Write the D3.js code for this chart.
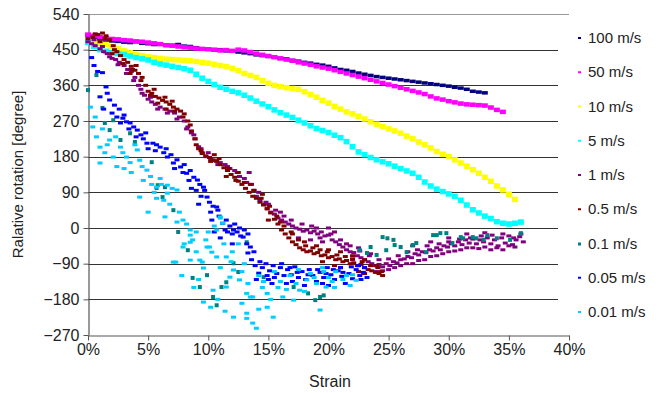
<!DOCTYPE html>
<html>
<head>
<meta charset="utf-8">
<script src="https://cdn.jsdelivr.net/npm/d3@7"></script>
<style>
  body { margin: 0; background: #fff; }
  svg { display: block; font-family: "Liberation Sans", Arial, sans-serif; }
</style>
</head>
<body>
<svg id="chart" width="660" height="393"></svg>
<script>
// Series labels and colours, legend order
const seriesNames = ["100 m/s", "50 m/s", "10 m/s", "5 m/s", "1 m/s", "0.5 m/s", "0.1 m/s", "0.05 m/s", "0.01 m/s"];
const seriesColors = ["#000080", "#ff00ff", "#ffff00", "#00ffff", "#800080", "#800000", "#008080", "#0000ff", "#00ccff"];

const xTicks = [0, 5, 10, 15, 20, 25, 30, 35, 40];
const yTicks = [-270, -180, -90, 0, 90, 180, 270, 360, 450, 540];

// strain grid (%) for the dense curves
const gridStrain = [0,0.5,1,1.5,2,2.5,3,3.5,4,4.5,5,5.5,6,6.5,7,7.5,8,8.5,9,9.5,10,10.5,11,11.5,12,12.5,13,13.5,14,14.5,15,15.5,16,16.5,17,17.5,18,18.5,19,19.5,20,20.5,21,21.5,22,22.5,23,23.5,24,24.5,25,25.5,26,26.5,27,27.5,28,28.5,29,29.5,30,30.5,31,31.5,32,32.5,33,33.5,34,34.5,35,35.5,36];

// relative rotation [degree] on gridStrain
const v100 = [482,478,476,474,472,471,469,468,470,466,465,463,464,462,461,463,459,458,455,452,451,449,450,447,446,444,442,440,437,435,433,431,428,427,423,421,418,416,413,411,408,404,400,398,395,391,388,385,382,380,378,376,374,372,370,368,366,364,362,360,358,355,353,350,345,343,341];
const v50 = [488,485,482,479,477,476,474,473,471,470,468,466,464,461,460,458,456,455,453,452,451,450,448,449,447,450,448,444,440,437,434,431,428,425,422,418,415,412,408,405,402,398,394,390,386,382,378,374,370,366,362,358,354,350,346,342,338,332,327,324,320,317,314,312,311,310,309,304,298,293];
const v10 = [475,470,466,463,458,452,447,442,438,435,432,430,428,426,425,424,423,422,420,418,416,413,410,407,403,397,390,385,380,372,365,360,357,354,352,350,344,337,330,322,315,307,300,293,288,282,275,268,262,256,250,245,239,232,225,217,210,202,193,186,180,172,164,156,147,138,128,118,106,96,85,72];
const v5 = [468,458,450,446,442,440,438,434,430,427,424,418,414,411,408,405,402,398,388,378,370,362,355,350,345,341,335,328,320,313,306,298,291,285,279,272,265,258,251,246,241,234,228,218,205,192,185,178,172,167,162,156,150,144,138,128,116,106,98,92,86,80,70,58,46,38,30,24,16,12,10,12,15];

// scattered series: [strain %, rotation]
const pts1 = [[0,470],[0.3,465],[0.6,460],[1.0,452],[1.3,445],[1.6,440],[2.0,428],[2.3,425],[2.6,418],[3.0,410],[3.3,400],[3.6,395],[3.9,380],[4.2,360],[4.4,350],[4.7,335],[5.0,325],[5.3,318],[5.6,312],[6.0,305],[6.4,300],[6.8,295],[7.2,290],[7.6,280],[8.0,270],[8.3,255],[8.6,240],[8.9,225],[9.2,205],[9.5,190],[9.8,180],[10.2,175],[10.6,170],[11.0,165],[11.4,160],[11.8,150],[12.2,145],[12.6,130],[13.0,125],[13.4,140],[13.6,110],[13.8,95],[14.0,80],[14.3,70],[14.6,60],[14.9,50],[15.2,40],[15.5,35],[15.8,25],[16.1,20],[16.4,15],[16.7,10],[17.0,5],[17.3,0],[17.6,-3],[17.9,-8],[18.2,-5],[18.5,-12],[18.8,-8],[19.1,-15],[19.4,-10],[19.7,-20],[20.0,-18],[20.3,-30],[20.6,-35],[20.9,-42],[21.2,-48],[21.5,-55],[21.8,-60],[22.1,-62],[22.4,-70],[22.7,-75],[23.0,-80],[23.3,-85],[23.6,-90],[23.9,-95],[24.2,-92],[24.5,-98],[24.8,-90],[25.1,-95],[25.4,-85],[25.7,-88],[26.0,-80],[26.3,-78],[26.6,-72],[26.9,-75],[27.2,-65],[27.5,-68],[27.8,-60],[28.1,-62],[28.4,-55],[28.7,-58],[29.0,-50],[29.3,-55],[29.6,-45],[29.9,-48],[30.2,-40],[30.5,-45],[30.8,-35],[31.1,-42],[31.4,-30],[31.7,-38],[32.0,-28],[32.3,-40],[32.6,-30],[32.9,-35],[33.2,-25],[33.5,-40],[33.8,-30],[34.1,-45],[34.4,-25],[34.7,-38],[35.0,-20],[35.3,-42],[35.6,-30],[35.9,-22],[36.2,-35],
  [17.5,-25],[18.5,-30],[19.5,-35],[20.5,-10],[21.5,-40],[22.5,-50],[23.5,-65],[16.0,40],[15.0,60],[20,0],[19,0],[22,-80],[24,-110],[25,-105],[26,-95],[27,-90],[28,-80],[29,-70],[30,-60],[31,-55],[32,-50],[33,-48],[34,-50],[35,-45],[36,-15],[30,-25],[31.5,-15],[33,-12],[28.5,-35],[27,-45],
  [0.5,475],[1.2,458],[1.8,432],[2.5,412],[3.2,390],[3.8,372],[4.5,340],[5.2,330],[5.8,300],[6.6,290],[7.4,275],[8.2,250],[8.8,235],[9.4,200],[10.0,190],[10.8,160],[11.6,155],[12.4,140],[13.2,115],[14.2,90],[14.8,65],[15.6,45],[16.3,30],[16.9,20],[17.8,10],[18.6,5],[19.3,-25],[20.2,-15],[21.0,-30],[21.8,-45],[22.6,-58],[23.4,-70],[24.2,-80],[25.0,-78],[25.8,-70],[26.6,-60],[27.4,-55],[28.2,-45],[29.2,-40],[30.0,-35],[30.9,-28],[31.8,-25],[32.7,-20],[33.6,-18],[34.5,-15],[35.4,-25],[24.5,-108],[25.5,-100],[26.5,-90],[27.5,-82],[28.5,-72],[29.5,-65],[30.5,-58],[31.5,-50],[32.5,-52],[33.5,-55],[34.5,-55],[35.5,-48]];
const pts05 = [[0,478],[0.4,482],[0.8,488],[1.2,492],[1.5,485],[1.8,475],[2.1,460],[2.4,445],[2.7,435],[3.0,425],[3.3,418],[3.6,408],[3.9,398],[4.2,390],[4.5,380],[4.8,360],[5.0,345],[5.3,340],[5.6,332],[5.9,328],[6.2,322],[6.5,318],[6.8,312],[7.1,305],[7.4,300],[7.7,295],[8.0,288],[8.3,270],[8.6,245],[8.9,225],[9.2,200],[9.5,188],[9.8,182],[10.1,178],[10.4,172],[10.7,168],[11.0,160],[11.3,152],[11.6,145],[11.9,135],[12.2,128],[12.5,118],[12.8,110],[13.1,100],[13.4,90],[13.7,80],[14.0,75],[14.3,65],[14.6,58],[14.9,48],[15.2,38],[15.5,22],[15.8,10],[16.1,-5],[16.4,-15],[16.7,-25],[17.0,-35],[17.3,-42],[17.6,-50],[17.9,-55],[18.2,-60],[18.5,-58],[18.8,-65],[19.1,-62],[19.4,-70],[19.7,-68],[20.0,-75],[20.3,-72],[20.6,-80],[20.9,-78],[21.2,-85],[21.5,-82],[21.8,-90],[22.1,-88],[22.4,-95],[22.7,-92],[23.0,-100],[23.3,-105],[23.6,-108],[23.9,-112],[24.2,-115],[24.5,-120],
  [1.0,470],[2.0,440],[3.5,390],[4.0,410],[5.5,350],[6.5,300],[7.0,320],[9.0,210],[10.5,185],[11.5,130],[12.5,140],[13.5,110],[14.5,85],[15,20],[16,15],[17,-15],[18,-35],[19,-45],[20,-55],[21,-60],[22,-70],[23,-80],[24,-95],[20.5,-95],[22.5,-110],
  [0.6,490],[1.4,478],[2.2,450],[2.9,415],[3.7,400],[4.4,372],[5.2,335],[5.8,315],[6.4,330],[7.2,295],[7.9,280],[8.5,260],[9.4,195],[10.2,168],[10.9,175],[11.7,150],[12.3,120],[13.0,115],[13.8,95],[14.4,75],[15.1,55],[15.7,30],[16.3,5],[16.9,-10],[17.5,-30],[18.1,-45],[18.7,-50],[19.3,-55],[19.9,-60],[20.7,-68],[21.4,-72],[22.0,-78],[22.8,-85],[23.5,-95],[24.1,-100],[24.4,-110],[19.5,-85],[21.0,-100],[23.0,-115]];
const pts01 = [[0,348],[0.7,386],[1.2,303],[1.4,265],[1.8,247],[2.1,272],[2.7,222],[3.5,239],[3.9,217],[5.3,166],[5.7,101],[5.8,108],[6.2,78],[6.4,103],[7.1,45],[7.5,-10],[8.3,-56],[8.7,-126],[9.3,-149],[9.9,-119],[10.4,-174],[10.7,-195],[11.1,-149],[11.5,-137],[12.1,-89],[12.5,-111],[13.2,-36],[14.6,-124],[17.1,-149],[18.3,-165],[18.9,-182],[19.6,-170],[19.3,-174],[22.6,-56],[23.2,-63],[23.5,-48],[24.0,-68],[24.5,-23],[24.8,-56],[24.9,-26],[25.4,-30],[25.5,-43],[26.0,-48],[26.5,-61],[27.0,-43],[27.3,-38],[28.1,-61],[28.7,-18],[29.0,-18],[29.3,-13],[29.8,-13],[30.3,-38],[31.0,-23],[31.2,-26],[32.0,-23],[32.3,-26],[32.9,-30],[33.2,-18],[34.0,-26],[35.1,-30],[36.0,-13]];
const pts005 = [[0.3,430],[0.8,395],[1.2,392],[1.5,356],[1.0,331],[1.8,323],[1.3,300],[2.0,290],[2.4,280],[2.9,277],[3.2,268],[3.5,265],[2.6,300],[3.0,285],[3.8,255],[4.1,247],[4.4,235],[4.9,214],[5.4,214],[4.6,225],[5.0,200],[5.7,210],[6.0,204],[6.3,190],[6.6,179],[6.9,185],[7.1,164],[7.4,172],[7.7,154],[8.0,160],[8.2,138],[8.5,145],[8.8,128],[9.1,121],[9.3,110],[9.6,103],[9.9,78],[8.6,100],[9.0,95],[9.4,80],[10.1,65],[10.4,55],[10.7,53],[10.2,40],[10.9,30],[11.2,12],[11.5,20],[11.8,5],[12.1,-5],[12.4,-10],[12.7,-20],[12.9,-23],[13.2,-40],[13.5,-48],[11.6,-10],[12.2,10],[13.0,-5],[13.3,-63],[13.6,-80],[13.9,-95],[14.2,-114],[14.5,-100],[14.8,-90],[15.1,-108],[15.4,-95],[15.7,-115],[16.0,-100],[16.3,-120],[16.6,-105],[16.9,-118],[17.2,-98],[17.5,-125],[17.8,-110],[18.1,-130],[18.4,-105],[18.7,-120],[19.0,-135],[19.3,-112],[19.6,-125],[19.9,-100],[20.2,-118],[20.5,-130],[20.8,-108],[21.1,-122],[21.4,-140],[21.7,-115],[22.0,-128],[22.3,-105],[22.6,-120],[22.9,-112],[23.2,-125],[14.0,-130],[15.0,-130],[16.5,-140],[18.0,-145],[20.0,-145],[21.0,-100],[22.5,-95],[12.0,-40],[11.0,-25],[10.5,-10],
  [0.5,410],[1.6,340],[2.2,310],[2.7,265],[3.4,250],[4.0,230],[4.8,240],[5.6,195],[6.5,200],[7.2,150],[7.9,140],[8.4,120],[9.2,60],[9.7,95],[10.3,20],[10.8,45],[11.4,-5],[12.0,-15],[12.6,0],[13.3,-15],[13.8,-60],[14.3,-85],[14.9,-120],[15.5,-125],[16.1,-90],[16.8,-100],[17.4,-112],[18.3,-118],[19.1,-105],[19.8,-115],[20.4,-105],[21.2,-112],[21.9,-98],[22.7,-130],[23.0,-100],[17.0,-135],[19.5,-140],[15.3,-140]];
const pts001 = [[0.2,305],[0.4,255],[0.7,230],[1.0,204],[1.0,164],[1.8,222],[2.1,179],[2.7,204],[3.2,179],[4.1,197],[4.3,171],[4.9,146],[5.7,103],[6.6,88],[1.4,190],[2.4,155],[3.0,150],[3.6,140],[4.6,120],[5.2,130],[5.5,90],[6.1,110],[4.3,78],[5.7,75],[6.6,108],[7.4,96],[7.9,20],[8.5,-5],[8.7,-30],[7.9,-48],[7.1,-86],[9.3,-81],[10.1,-48],[11.0,25],[10.7,-5],[11.5,-73],[12.1,-106],[12.6,-131],[12.1,-225],[13.2,-215],[13.7,-240],[14.0,-253],[14.9,-200],[15.4,-225],[16.2,-174],[17.1,-182],[17.6,-157],[18.2,-131],[19.3,-207],[19.8,-149],[9.6,-187],[10.4,-157],[11.5,-149],[13.7,-174],[14.9,-165],[6.4,28],[7.4,15],[8.5,-18],[8.5,-36],[9.9,-48],[10.3,-61],[10.7,-73],[7.3,-86],[8.5,-81],[9.5,-86],[11.0,28],[11.2,12],[9.6,-101],[11.8,-124],[13.2,-165],[13.5,-174],[13.2,-228],[8.0,-40],[9.0,-60],[12.5,-40],[13.0,-90],[14.2,-120],[15.5,-110],[16.0,-135],[16.8,-120],[17.5,-105],[18.5,-115],[19.0,-140],[20.0,-125],[20.6,-110],[21.2,-130],[21.8,-145],[22.0,-118],[14.5,-150],[15.8,-150],[18.0,-160],[19.5,-100],[20.5,-150],[10.0,-10],[12.0,-60],[6.8,60],[5.0,40],[9.2,-130],[10.8,-180],[11.0,-100],
  [0.6,280],[1.2,250],[1.6,210],[2.3,230],[2.9,190],[3.5,165],[3.9,210],[4.5,155],[5.3,110],[6.0,125],[6.3,70],[7.0,100],[7.6,40],[8.2,10],[9.0,-10],[9.8,-30],[10.5,5],[11.3,-40],[11.9,-85],[12.8,-110],[13.3,-140],[14.6,-135],[15.2,-180],[16.5,-155],[17.3,-140],[18.8,-125],[19.6,-110],[20.3,-135],[21.5,-120],[22.3,-132],[12.8,-190],[14.2,-205],[11.4,-210],[10.2,-200],[8.8,-150],[7.8,-120]];

const zipGrid = vals => vals.map((v, i) => [gridStrain[i], v]);
const seriesPoints = [zipGrid(v100), zipGrid(v50), zipGrid(v10), zipGrid(v5), pts1, pts05, pts01, pts005, pts001];
// marker size per series [w, h]: dense curves are drawn as a thick band
const markerSize = [[6, 3.5], [6, 4.5], [6, 5.5], [6, 5.5], [5, 3], [5, 3], [4, 4], [5, 3], [5, 3]];

const margin = { top: 14, right: 91, bottom: 58, left: 88 };
const width = 660, height = 393;

const $svg = d3.select("#chart");

const x = d3.scaleLinear().domain([0, 40]).range([margin.left, width - margin.right]);
const y = d3.scaleLinear().domain([-270, 540]).range([height - margin.bottom, margin.top]);

// Grid
$svg.append("g")
  .selectAll("line")
  .data(yTicks.filter(d => d > -270))
  .join("line")
    .attr("x1", margin.left)
    .attr("x2", d => d === 540 ? x(40) : x(40) - 11)
    .attr("y1", d => Math.round(y(d)) + 0.5)
    .attr("y2", d => Math.round(y(d)) + 0.5)
    .attr("stroke", d => d === 540 ? "#999" : "#333")
    .attr("stroke-width", 1.2);

// Axes
const xAxis = d3.axisBottom(x).tickValues(xTicks).tickFormat(d => d + "%").tickSize(5).tickSizeOuter(0).tickPadding(3);
const yAxis = d3.axisLeft(y).tickValues(yTicks).tickSize(5).tickSizeOuter(0).tickPadding(4);

const $xAxis = $svg.append("g")
  .attr("transform", `translate(0,${Math.round(y(-270)) + 0.5})`)
  .call(xAxis);
const $yAxis = $svg.append("g")
  .attr("transform", `translate(${margin.left + 0.5},0)`)
  .call(yAxis);

[$xAxis, $yAxis].forEach($a => {
  $a.select(".domain").attr("stroke", "#555").attr("stroke-width", 1.2);
  $a.selectAll(".tick line").attr("stroke", "#555");
  $a.selectAll(".tick text").attr("fill", "#222").style("font-size", "16px");
});

// Points
const $view = $svg.append("g");
seriesPoints.forEach((pts, i) => {
  const [w, h] = markerSize[i];
  $view.append("g")
    .selectAll("rect")
    .data(pts)
    .join("rect")
      .attr("x", d => x(d[0]) - w / 2)
      .attr("y", d => y(d[1]) - h / 2)
      .attr("width", w)
      .attr("height", h)
      .attr("fill", seriesColors[i]);
});

// Axis titles
$svg.append("text")
  .attr("transform", `translate(23,${(y(540) + y(-270)) / 2}) rotate(-90)`)
  .attr("text-anchor", "middle")
  .style("font-size", "15px")
  .attr("fill", "#222")
  .text("Ralative rotation [degree]");

$svg.append("text")
  .attr("x", 330)
  .attr("y", 387)
  .attr("text-anchor", "middle")
  .style("font-size", "16px")
  .attr("fill", "#222")
  .text("Strain");

// Legend
const $legend = $svg.append("g");
const legendY = d3.scaleLinear().domain([0, 8]).range([38, 312]);
seriesNames.forEach((name, i) => {
  $legend.append("rect")
    .attr("x", 578)
    .attr("y", legendY(i) - 1)
    .attr("width", 3)
    .attr("height", i === 6 ? 3 : 2)
    .attr("fill", seriesColors[i]);
  $legend.append("text")
    .attr("x", 588)
    .attr("y", legendY(i) + 5)
    .style("font-size", "15px")
    .attr("fill", "#222")
    .text(name);
});
</script>
</body>
</html>
